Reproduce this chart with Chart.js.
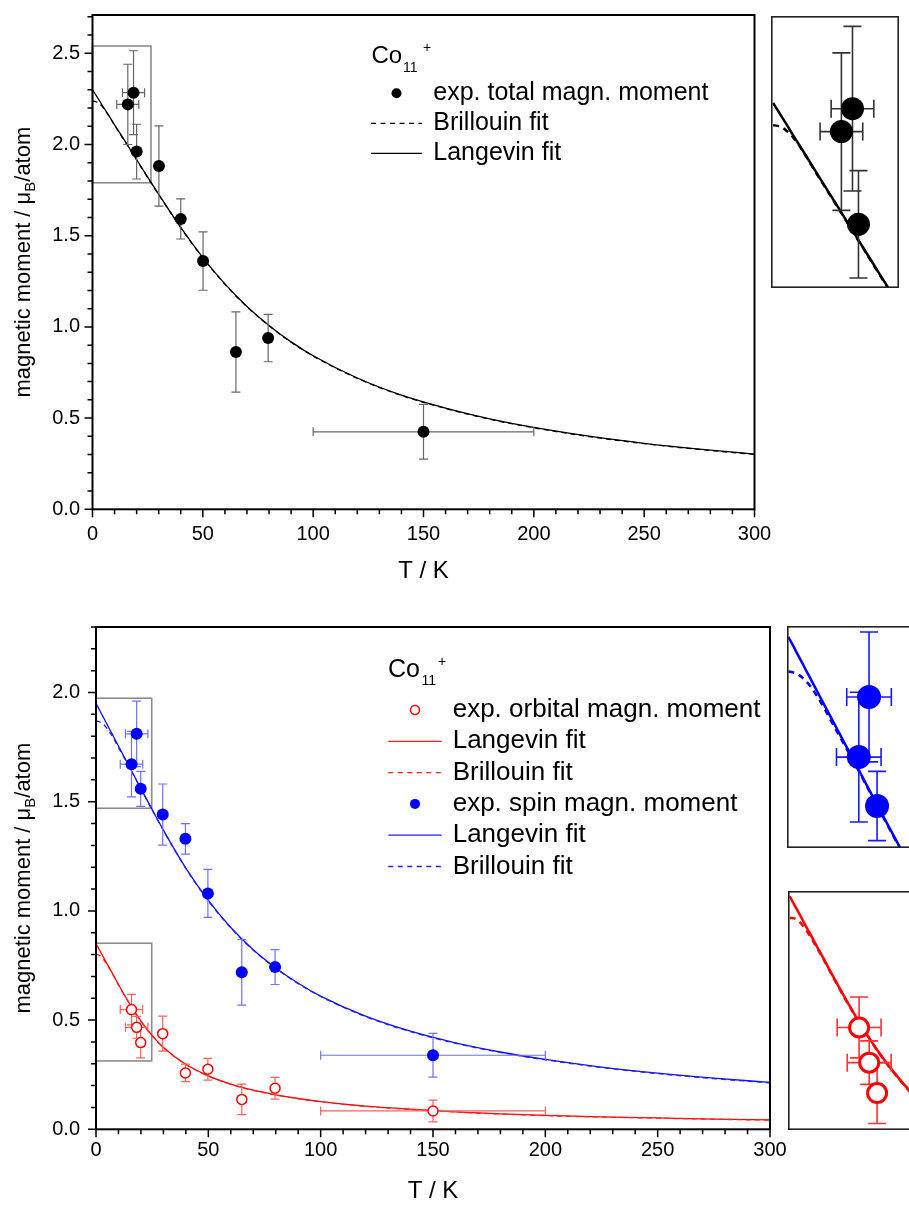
<!DOCTYPE html>
<html>
<head>
<meta charset="utf-8">
<script src="https://cdn.jsdelivr.net/npm/chart.js@4.4.1/dist/chart.umd.min.js"></script>
<style>
html, body { margin: 0; padding: 0; background: #fff; overflow: hidden; width: 909px; height: 1206px; }
canvas { position: absolute; }
</style>
</head>
<body>
<canvas id="topMain" width="790" height="600" style="left:0;top:0"></canvas>
<canvas id="topInset" width="128" height="272" style="left:771px;top:16px"></canvas>
<canvas id="botMain" width="800" height="606" style="left:0;top:600px"></canvas>
<canvas id="spinInset" width="140" height="222" style="left:787px;top:626px"></canvas>
<canvas id="orbInset" width="140" height="239" style="left:788px;top:891px"></canvas>
<script>
// measured points, total moment (upper panel)
const tempTotal = [16, 18.6, 20, 30.1, 40, 50.1, 65, 79.6, 150];
const momTotal = [2.22, 2.284, 1.961, 1.882, 1.592, 1.361, 0.862, 0.939, 0.425];
const errTotal = [0.22, 0.23, 0.15, 0.22, 0.11, 0.16, 0.22, 0.13, 0.15];
const tErrTotal = [5, 5, 0, 0, 0, 0, 0, 0, 50];

// measured points, orbital and spin (lower panel)
const tempBottom = [15.8, 18.1, 19.9, 29.7, 39.8, 49.8, 64.9, 79.7, 150];
const momOrbital = [0.548, 0.467, 0.397, 0.438, 0.258, 0.275, 0.137, 0.188, 0.084];
const errOrbital = [0.07, 0.05, 0.07, 0.08, 0.04, 0.05, 0.07, 0.05, 0.05];
const momSpin = [1.672, 1.811, 1.559, 1.441, 1.33, 1.08, 0.719, 0.743, 0.339];
const errSpin = [0.15, 0.15, 0.08, 0.14, 0.07, 0.11, 0.15, 0.08, 0.10];
const tErrBottom = [5, 5, 0, 0, 0, 0, 0, 0, 50];

// fit curves
const fitT = [0, 1, 2, 3, 4, 5, 6, 8, 10, 15, 20, 25, 30, 40, 50, 60, 70, 80, 90, 100, 120, 140, 160, 180, 200, 225, 250, 275, 300];
const langTotal = [2.300, 2.281, 2.262, 2.243, 2.223, 2.204, 2.185, 2.147, 2.108, 2.013, 1.917, 1.821, 1.727, 1.545, 1.380, 1.236, 1.112, 1.008, 0.918, 0.842, 0.720, 0.626, 0.555, 0.496, 0.449, 0.401, 0.362, 0.330, 0.303];
const brilTotal = [2.238, 2.236, 2.232, 2.224, 2.213, 2.199, 2.183, 2.145, 2.106, 2.011, 1.915, 1.819, 1.725, 1.543, 1.378, 1.234, 1.110, 1.006, 0.916, 0.840, 0.718, 0.624, 0.553, 0.494, 0.447, 0.399, 0.360, 0.328, 0.301];
const langSpin = [1.950, 1.931, 1.911, 1.892, 1.872, 1.853, 1.833, 1.794, 1.755, 1.658, 1.560, 1.464, 1.370, 1.196, 1.048, 0.924, 0.822, 0.739, 0.669, 0.610, 0.518, 0.449, 0.396, 0.354, 0.320, 0.285, 0.257, 0.234, 0.215];
const brilSpin = [1.870, 1.868, 1.864, 1.857, 1.847, 1.835, 1.820, 1.786, 1.748, 1.655, 1.558, 1.462, 1.368, 1.194, 1.046, 0.922, 0.820, 0.737, 0.667, 0.608, 0.516, 0.447, 0.394, 0.352, 0.318, 0.283, 0.255, 0.232, 0.213];
const langOrbital = [0.850, 0.831, 0.813, 0.794, 0.775, 0.757, 0.738, 0.701, 0.663, 0.574, 0.495, 0.429, 0.375, 0.298, 0.245, 0.207, 0.179, 0.158, 0.141, 0.127, 0.106, 0.092, 0.080, 0.071, 0.064, 0.057, 0.052, 0.047, 0.043];
const brilOrbital = [0.800, 0.799, 0.793, 0.782, 0.768, 0.752, 0.735, 0.699, 0.661, 0.573, 0.494, 0.428, 0.374, 0.297, 0.244, 0.206, 0.178, 0.157, 0.140, 0.126, 0.105, 0.091, 0.079, 0.070, 0.063, 0.056, 0.051, 0.046, 0.042];

// zoomed regions marked in the main panels: [T0, T1, m0, m1]
const topBox = [0, 26.5, 1.79, 2.54];
const spinBox = [0, 24.8, 1.47, 1.974];
const orbBox = [0, 24.8, 0.313, 0.852];
// the insets only show the first three (lowest T) measurements
const insetCount = 3;

const topLegend = ['exp. total magn. moment', 'Brillouin fit', 'Langevin fit'];
const botLegend = ['exp. orbital magn. moment', 'Langevin fit', 'Brillouin fit', 'exp. spin magn. moment', 'Langevin fit', 'Brillouin fit'];

const FONT = '"Liberation Sans", Arial, Helvetica, sans-serif';
Chart.defaults.font.family = FONT;
Chart.defaults.color = '#000';

function pts(xs, ys) {
    return xs.map((x, i) => ({ x: x, y: ys[i] }));
}

function pointSet(xs, ys, ex, ey, st, n) {
    n = n || xs.length;
    return {
        data: pts(xs.slice(0, n), ys), errX: ex, errY: ey, errStyle: st.err,
        showLine: false, pointRadius: st.r, pointBorderWidth: st.bw,
        pointBackgroundColor: st.fill, pointBorderColor: st.stroke,
        clip: 0, order: 0
    };
}

function curveSet(ys, color, width, dash) {
    return {
        data: pts(fitT, ys), borderColor: color, borderWidth: width,
        borderDash: dash || [], pointRadius: 0, cubicInterpolationMode: 'monotone',
        fill: false, clip: 0, order: 1
    };
}

// error bars drawn just before the point dataset
const errorBars = {
    id: 'errorBars',
    beforeDatasetDraw(chart, args) {
        const ds = chart.data.datasets[args.index];
        if (!ds.errY) return;
        const { ctx, chartArea: a } = chart;
        const x = chart.scales.x, y = chart.scales.y;
        const st = ds.errStyle, c = st.cap;
        ctx.save();
        ctx.beginPath();
        ctx.rect(a.left, a.top, a.right - a.left, a.bottom - a.top);
        ctx.clip();
        ctx.strokeStyle = st.color;
        ctx.lineWidth = st.width;
        ds.data.forEach((p, i) => {
            const px = x.getPixelForValue(p.x), py = y.getPixelForValue(p.y);
            const dy = ds.errY[i], dx = ds.errX[i];
            ctx.beginPath();
            if (dy) {
                const y1 = y.getPixelForValue(p.y + dy), y2 = y.getPixelForValue(p.y - dy);
                ctx.moveTo(px, y1); ctx.lineTo(px, y2);
                ctx.moveTo(px - c, y1); ctx.lineTo(px + c, y1);
                ctx.moveTo(px - c, y2); ctx.lineTo(px + c, y2);
            }
            if (dx) {
                const x1 = x.getPixelForValue(p.x - dx), x2 = x.getPixelForValue(p.x + dx);
                ctx.moveTo(x1, py); ctx.lineTo(x2, py);
                ctx.moveTo(x1, py - c); ctx.lineTo(x1, py + c);
                ctx.moveTo(x2, py - c); ctx.lineTo(x2, py + c);
            }
            ctx.stroke();
        });
        ctx.restore();
    }
};

const zoomBoxes = {
    id: 'zoomBoxes',
    beforeDatasetsDraw(chart, args, o) {
        if (!o.boxes) return;
        const ctx = chart.ctx, x = chart.scales.x, y = chart.scales.y;
        ctx.save();
        ctx.strokeStyle = '#8c8c8c';
        ctx.lineWidth = 1.6;
        o.boxes.forEach(b => {
            const x0 = x.getPixelForValue(b[0]), x1 = x.getPixelForValue(b[1]);
            const y0 = y.getPixelForValue(b[2]), y1 = y.getPixelForValue(b[3]);
            ctx.strokeRect(x0, y1, x1 - x0, y0 - y1);
        });
        ctx.restore();
    }
};

// box around the plot plus outward ticks
const axisFrame = {
    id: 'axisFrame',
    afterDraw(chart, args, o) {
        const { ctx, chartArea: a } = chart;
        ctx.save();
        ctx.strokeStyle = o.color || '#000';
        ctx.lineWidth = o.width || 2;
        if (o.inset) {
            const h = ctx.lineWidth / 2;
            ctx.strokeRect(a.left + h, a.top + h, a.right - a.left - 2 * h, a.bottom - a.top - 2 * h);
        } else {
            ctx.strokeRect(a.left, a.top, a.right - a.left, a.bottom - a.top);
            ctx.lineWidth = 1.5;
            ctx.beginPath();
            const sx = chart.scales.x, sy = chart.scales.y;
            sx.ticks.forEach(t => {
                const len = t.label !== '' ? 8 : 5;
                const px = sx.getPixelForValue(t.value);
                ctx.moveTo(px, a.bottom); ctx.lineTo(px, a.bottom + len);
            });
            sy.ticks.forEach(t => {
                const len = t.label !== '' ? 8 : 5;
                const py = sy.getPixelForValue(t.value);
                ctx.moveTo(a.left, py); ctx.lineTo(a.left - len, py);
            });
            ctx.stroke();
        }
        ctx.restore();
    }
};

const yTitle = {
    id: 'yTitle',
    afterDraw(chart, args, o) {
        if (!o.x) return;
        const ctx = chart.ctx, a = chart.chartArea;
        const parts = [['magnetic moment / μ', 22, 0], ['B', 15, 5], ['/atom', 22, 0]];
        ctx.save();
        let total = 0;
        parts.forEach(p => { ctx.font = p[1] + 'px ' + FONT; p.w = ctx.measureText(p[0]).width; total += p.w; });
        ctx.translate(o.x, (a.top + a.bottom) / 2);
        ctx.rotate(-Math.PI / 2);
        ctx.fillStyle = '#000';
        ctx.textBaseline = 'alphabetic';
        let cx = -total / 2;
        parts.forEach(p => {
            ctx.font = p[1] + 'px ' + FONT;
            ctx.fillText(p[0], cx, p[2]);
            cx += p.w;
        });
        ctx.restore();
    }
};

const coLegend = {
    id: 'coLegend',
    afterDraw(chart, args, o) {
        if (!o.items) return;
        const ctx = chart.ctx;
        ctx.save();
        ctx.fillStyle = '#000';
        ctx.textBaseline = 'alphabetic';
        ctx.font = o.headSize + 'px ' + FONT;
        ctx.fillText('Co', o.x, o.headY);
        ctx.font = '14px ' + FONT;
        ctx.fillText('11', o.subX, o.headY + 8.5);
        ctx.fillText('+', o.supX, o.headY - 11);
        o.items.forEach((it, i) => {
            const yy = o.rowY + i * o.rowGap;
            const cx = (o.x0 + o.x1) / 2;
            ctx.strokeStyle = it.color;
            ctx.fillStyle = it.color;
            ctx.setLineDash([]);
            if (it.kind === 'dot') {
                ctx.beginPath(); ctx.arc(cx, yy, 5, 0, Math.PI * 2); ctx.fill();
            } else if (it.kind === 'ring') {
                ctx.lineWidth = 1.5;
                ctx.beginPath(); ctx.arc(cx, yy, 4.5, 0, Math.PI * 2); ctx.stroke();
            } else {
                ctx.lineWidth = 1.3;
                if (it.kind === 'dash') ctx.setLineDash([5, 4.5]);
                ctx.beginPath(); ctx.moveTo(o.x0, yy); ctx.lineTo(o.x1, yy); ctx.stroke();
            }
            ctx.fillStyle = '#000';
            ctx.font = o.textSize + 'px ' + FONT;
            ctx.textBaseline = 'middle';
            ctx.fillText(it.text, o.textX, yy);
        });
        ctx.restore();
    }
};

const plugins = [errorBars, zoomBoxes, axisFrame, yTitle, coLegend];

function mainScales(yMax, yWidth, xHeight, yPad, xPad, titlePad) {
    return {
        x: {
            type: 'linear', min: 0, max: 300, bounds: 'data',
            grid: { display: false, drawTicks: false }, border: { display: false },
            ticks: {
                stepSize: 10, autoSkip: false, includeBounds: false, maxRotation: 0,
                padding: xPad, font: { size: 20 },
                callback: v => (Math.round(v) % 50 === 0 ? String(Math.round(v)) : '')
            },
            title: { display: true, text: 'T / K', font: { size: 24 }, padding: { top: 0, bottom: titlePad } },
            afterFit: s => { s.height = xHeight; s.paddingLeft = 0; s.paddingRight = 0; }
        },
        y: {
            type: 'linear', min: 0, max: yMax, bounds: 'data',
            grid: { display: false, drawTicks: false }, border: { display: false },
            ticks: {
                stepSize: 0.1, autoSkip: false, includeBounds: false,
                padding: yPad, font: { size: 20 },
                callback: v => (Math.round(v * 10) % 5 === 0 ? v.toFixed(1) : '')
            },
            afterFit: s => { s.width = yWidth; s.paddingTop = 0; s.paddingBottom = 0; }
        }
    };
}

function insetScales(x0, x1, y0, y1) {
    return {
        x: { type: 'linear', display: false, min: x0, max: x1, bounds: 'data' },
        y: { type: 'linear', display: false, min: y0, max: y1, bounds: 'data' }
    };
}

function baseOptions(scales, pad, extra) {
    return {
        responsive: false, animation: false, events: [],
        layout: { padding: pad, autoPadding: false },
        scales: scales,
        plugins: Object.assign({ legend: { display: false }, tooltip: { enabled: false } }, extra)
    };
}

const blackPts = { r: 6, bw: 0, fill: '#000', stroke: '#000', err: { color: '#666', width: 1.2, cap: 4.5 } };
const bluePts = { r: 6, bw: 0, fill: '#0000ff', stroke: '#0000ff', err: { color: '#7070ff', width: 1.2, cap: 4.5 } };
const redPts = { r: 5, bw: 1.5, fill: '#fff', stroke: '#ff0000', err: { color: '#ff6060', width: 1.2, cap: 4.5 } };

// upper panel
new Chart(document.getElementById('topMain'), {
    type: 'line',
    data: { datasets: [
        pointSet(tempTotal, momTotal, tErrTotal, errTotal, blackPts),
        curveSet(brilTotal, '#000', 1.3, [5, 4]),
        curveSet(langTotal, '#000', 1.3)
    ] },
    options: baseOptions(mainScales(2.71, 92.5, 90.7, 12.5, 13, 14.6), { top: 15, right: 35.5, left: 0, bottom: 0 }, {
        zoomBoxes: { boxes: [topBox] },
        axisFrame: { width: 2 },
        yTitle: { x: 30 },
        coLegend: {
            headSize: 24, x: 371.5, headY: 63.3, subX: 403, supX: 423,
            x0: 371, x1: 422, textX: 433.3, textSize: 25, rowY: 93.3, rowGap: 30,
            items: [
                { kind: 'dot', color: '#000', text: topLegend[0] },
                { kind: 'dash', color: '#000', text: topLegend[1] },
                { kind: 'solid', color: '#000', text: topLegend[2] }
            ]
        }
    }),
    plugins: plugins
});

new Chart(document.getElementById('topInset'), {
    type: 'line',
    data: { datasets: [
        pointSet(tempTotal, momTotal, tErrTotal, errTotal, { r: 11.5, bw: 0, fill: '#000', stroke: '#000', err: { color: '#333', width: 1.6, cap: 9 } }, insetCount),
        curveSet(brilTotal, '#000', 2.5, [6, 5]),
        curveSet(langTotal, '#000', 2.5)
    ] },
    options: baseOptions(insetScales(-0.5, 29.5, 1.783, 2.543), 0, { axisFrame: { inset: true, width: 1.6, color: '#222' } }),
    plugins: plugins
});

// lower panel
new Chart(document.getElementById('botMain'), {
    type: 'line',
    data: { datasets: [
        pointSet(tempBottom, momOrbital, tErrBottom, errOrbital, redPts),
        pointSet(tempBottom, momSpin, tErrBottom, errSpin, bluePts),
        curveSet(brilOrbital, '#ff2020', 1.3, [5, 4]),
        curveSet(langOrbital, '#ff0000', 1.3),
        curveSet(brilSpin, '#2020ff', 1.3, [5, 4]),
        curveSet(langSpin, '#1010ff', 1.3)
    ] },
    options: baseOptions(mainScales(2.3, 96, 76.7, 16, 9, 0), { top: 27, right: 30, left: 0, bottom: 0 }, {
        zoomBoxes: { boxes: [spinBox, orbBox] },
        axisFrame: { width: 2 },
        yTitle: { x: 30 },
        coLegend: {
            headSize: 25, x: 388, headY: 76.7, subX: 421.5, supX: 438,
            x0: 388.3, x1: 441.7, textX: 452.7, textSize: 26, rowY: 110, rowGap: 31.3,
            items: [
                { kind: 'ring', color: '#ff0000', text: botLegend[0] },
                { kind: 'solid', color: '#ff2020', text: botLegend[1] },
                { kind: 'dash', color: '#ff2020', text: botLegend[2] },
                { kind: 'dot', color: '#0000ff', text: botLegend[3] },
                { kind: 'solid', color: '#2020ff', text: botLegend[4] },
                { kind: 'dash', color: '#2020ff', text: botLegend[5] }
            ]
        }
    }),
    plugins: plugins
});

new Chart(document.getElementById('spinInset'), {
    type: 'line',
    data: { datasets: [
        pointSet(tempBottom, momSpin, tErrBottom, errSpin, { r: 12, bw: 0, fill: '#0000ff', stroke: '#0000ff', err: { color: '#1a1aff', width: 1.6, cap: 9 } }, insetCount),
        curveSet(brilSpin, '#0000ff', 2.5, [6, 5]),
        curveSet(langSpin, '#0000ff', 2.5)
    ] },
    options: baseOptions(insetScales(-0.3, 31.1, 1.462, 1.975), 0, { axisFrame: { inset: true, width: 1.6, color: '#222' } }),
    plugins: plugins
});

new Chart(document.getElementById('orbInset'), {
    type: 'line',
    data: { datasets: [
        pointSet(tempBottom, momOrbital, tErrBottom, errOrbital, { r: 9.5, bw: 3, fill: '#fff', stroke: '#ff0000', err: { color: '#ff3030', width: 1.6, cap: 9 } }, insetCount),
        curveSet(brilOrbital, '#ff0000', 2.5, [6, 5]),
        curveSet(langOrbital, '#ff0000', 2.5)
    ] },
    options: baseOptions(insetScales(-0.4, 31.5, 0.312, 0.862), 0, { axisFrame: { inset: true, width: 1.6, color: '#222' } }),
    plugins: plugins
});
</script>
</body>
</html>
